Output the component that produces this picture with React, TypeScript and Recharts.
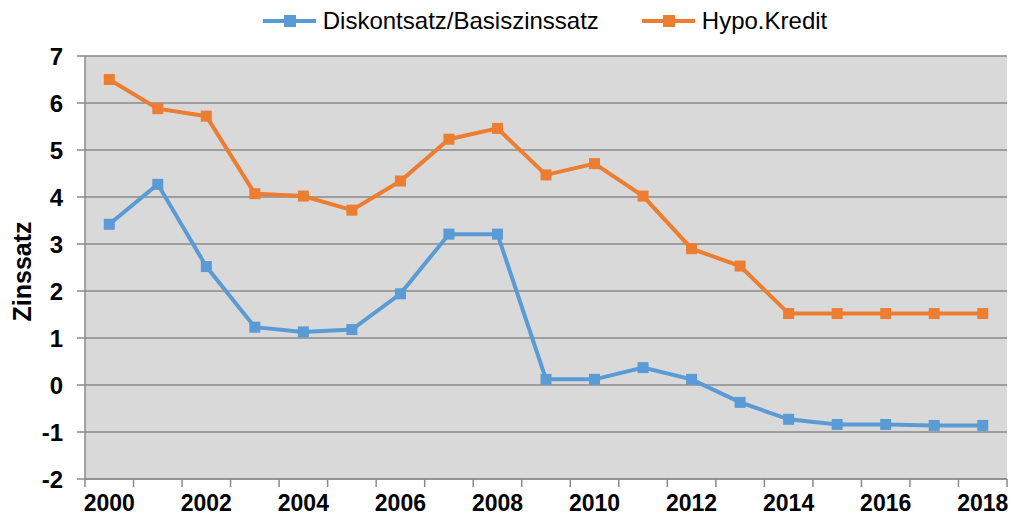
import React from "react";
import {
  LineChart,
  Line,
  XAxis,
  YAxis,
  CartesianGrid,
  Legend,
} from "recharts";

// Jahre (Kategorien)
const years = [
  2000, 2001, 2002, 2003, 2004, 2005, 2006, 2007, 2008, 2009, 2010, 2011, 2012,
  2013, 2014, 2015, 2016, 2017, 2018,
];

// Diskontsatz / Basiszinssatz in %
const diskont = [
  3.42, 4.27, 2.52, 1.23, 1.13, 1.18, 1.94, 3.21, 3.21, 0.12, 0.12, 0.37, 0.12,
  -0.37, -0.73, -0.84, -0.84, -0.86, -0.86,
];

// Hypothekarkredit in %
const hypo = [
  6.5, 5.88, 5.72, 4.07, 4.02, 3.72, 4.34, 5.23, 5.46, 4.47, 4.71, 4.02, 2.9,
  2.53, 1.52, 1.52, 1.52, 1.52, 1.52,
];

const xLabels = [2000, 2002, 2004, 2006, 2008, 2010, 2012, 2014, 2016, 2018];
const yTicks = [-2, -1, 0, 1, 2, 3, 4, 5, 6, 7];

const BLUE = "#5b9bd5";
const ORANGE = "#ed7d31";
const AXIS = "#8a8a8a";

const data = years.map((year, i) => ({
  year,
  diskont: diskont[i],
  hypo: hypo[i],
}));

// Striche an den Kategoriegrenzen, Beschriftung in der Mitte
const xTickPositions = [
  ...years.map((y) => y - 0.5),
  years[years.length - 1] + 0.5,
  ...xLabels,
].sort((a, b) => a - b);

const XTick = (props: any) => {
  const { x, y, payload } = props;
  const v = payload.value;
  if (!Number.isInteger(v)) {
    return <line x1={x} x2={x} y1={y - 8} y2={y} stroke={AXIS} strokeWidth={1.5} />;
  }
  return (
    <text
      x={x}
      y={y + 8}
      dy="0.71em"
      textAnchor="middle"
      fontSize={23}
      fontWeight="bold"
      fill="#000"
    >
      {v}
    </text>
  );
};

const YLabel = (props: any) => {
  const { viewBox } = props;
  const cx = viewBox.x + 22;
  const cy = viewBox.y + viewBox.height / 2 + 4;
  return (
    <text
      x={cx}
      y={cy}
      transform={`rotate(-90 ${cx} ${cy})`}
      textAnchor="middle"
      dominantBaseline="central"
      fontSize={25}
      fontWeight="bold"
      fill="#000"
    >
      Zinssatz
    </text>
  );
};

const makeDot = (color: string) => (p: any) => {
  if (p.cx == null || p.cy == null) return <g key={`${color}-${p.index}`} />;
  return (
    <rect
      key={`${color}-${p.index}`}
      x={p.cx - 5.5}
      y={p.cy - 5.5}
      width={11}
      height={11}
      fill={color}
    />
  );
};

const LegendItem = ({ color, label, gap }: { color: string; label: string; gap: number }) => (
  <div style={{ display: "flex", alignItems: "center", marginLeft: gap }}>
    <svg width={53} height={12}>
      <line x1={0} x2={53} y1={6} y2={6} stroke={color} strokeWidth={4} />
      <rect x={21} y={0} width={12} height={12} fill={color} />
    </svg>
    <span style={{ marginLeft: 7, fontSize: 24, lineHeight: "24px", color: "#000" }}>
      {label}
    </span>
  </div>
);

const LegendContent = () => (
  <div
    style={{
      height: 56,
      boxSizing: "border-box",
      paddingTop: 9,
      paddingLeft: 77,
      display: "flex",
      justifyContent: "center",
      alignItems: "flex-start",
    }}
  >
    <LegendItem color={BLUE} label="Diskontsatz/Basiszinssatz" gap={0} />
    <LegendItem color={ORANGE} label="Hypo.Kredit" gap={43} />
  </div>
);

export default function App() {
  return (
    <div
      style={{
        position: "absolute",
        left: 0,
        top: 0,
        width: 1013,
        height: 517,
        background: "#fff",
        fontFamily: "'Liberation Sans', Arial, sans-serif",
      }}
    >
      <LineChart
        width={1013}
        height={517}
        data={data}
        margin={{ top: 0, right: 6, bottom: 0, left: 0 }}
      >
        <CartesianGrid
          vertical={false}
          fill="#d9d9d9"
          fillOpacity={1}
          stroke={AXIS}
          strokeWidth={1.5}
        />
        <XAxis
          dataKey="year"
          type="number"
          domain={[1999.5, 2018.5]}
          ticks={xTickPositions}
          interval={0}
          tickLine={false}
          tickSize={8}
          tickMargin={0}
          tick={<XTick />}
          axisLine={{ stroke: AXIS, strokeWidth: 1.5 }}
          height={38}
        />
        <YAxis
          type="number"
          domain={[-2, 7]}
          ticks={yTicks}
          interval={0}
          width={85}
          tickSize={8}
          tickMargin={14}
          tickLine={{ stroke: AXIS, strokeWidth: 1.5 }}
          axisLine={{ stroke: AXIS, strokeWidth: 1.5 }}
          tick={{ fontSize: 24, fontWeight: "bold", fill: "#000" }}
          label={<YLabel />}
        />
        <Legend
          verticalAlign="top"
          content={<LegendContent />}
          wrapperStyle={{ top: 0, left: 0, width: 1013, height: 56 }}
        />
        <Line
          type="linear"
          dataKey="diskont"
          name="Diskontsatz/Basiszinssatz"
          stroke={BLUE}
          strokeWidth={4}
          dot={makeDot(BLUE)}
          activeDot={false}
          isAnimationActive={false}
        />
        <Line
          type="linear"
          dataKey="hypo"
          name="Hypo.Kredit"
          stroke={ORANGE}
          strokeWidth={4}
          dot={makeDot(ORANGE)}
          activeDot={false}
          isAnimationActive={false}
        />
      </LineChart>
    </div>
  );
}
